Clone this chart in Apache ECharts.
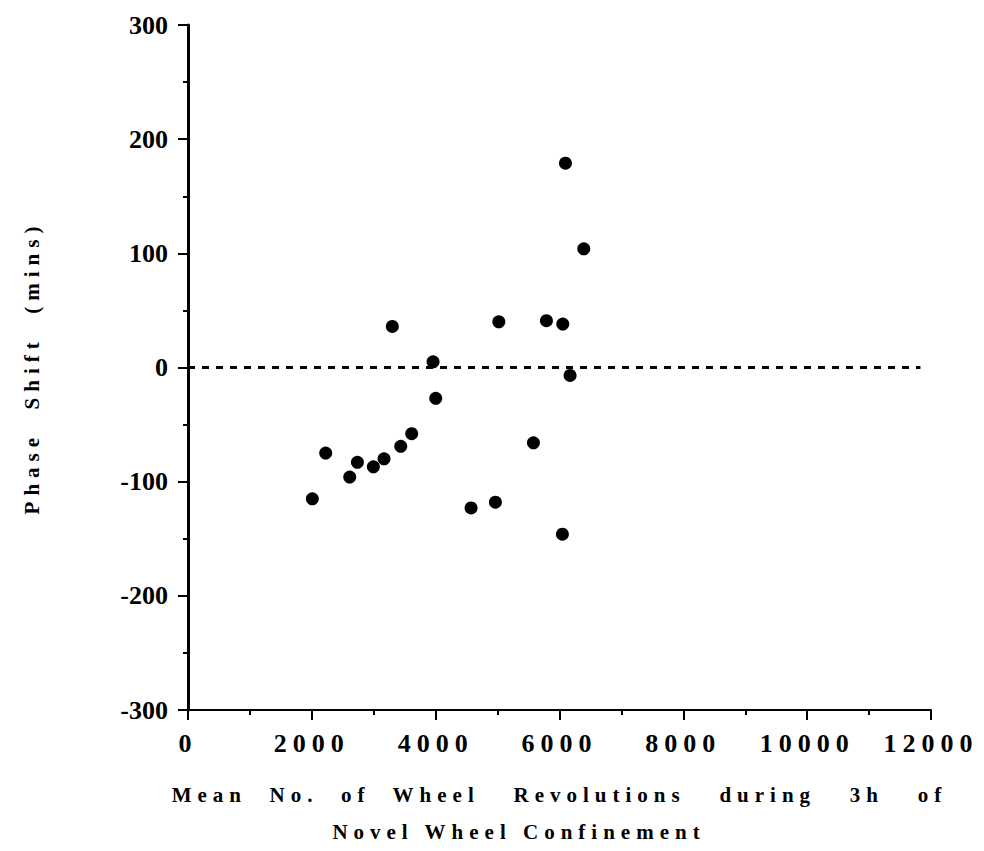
<!DOCTYPE html>
<html>
<head>
<meta charset="utf-8">
<script src="https://cdn.jsdelivr.net/npm/echarts@6/dist/echarts.min.js"></script>
<style>
  html, body { margin: 0; padding: 0; background: #fff; }
  #chart { width: 984px; height: 851px; }
  /* the old plot uses wide letter tracking on its centred texts */
  #chart text[text-anchor="middle"] { letter-spacing: 6px; white-space: pre; }
</style>
</head>
<body>
<div id="chart"></div>
<script>
// mean wheel revolutions in 3h vs phase shift (mins)
var revolutions = [2008, 2224, 2612, 2736, 2994, 3166, 3436, 3613, 3300, 3958, 4001,
                   4572, 4965, 5020, 5579, 5789, 6053, 6047, 6096, 6171, 6392];
var phaseShift  = [-115, -75, -96, -83, -87, -80, -69, -58, 36, 5, -27,
                   -123, -118, 40, -66, 41, 38, -146, 179, -7, 104];
var refLineX = [0, 11830];
var refLineY = 0;

var points = [];
for (var i = 0; i < revolutions.length; i++) {
	points.push([revolutions[i], phaseShift[i]]);
}

var font = '"Liberation Serif", "Times New Roman", serif';

var s = echarts.init(document.getElementById("chart"), null, {renderer: 'svg'}), c = {
	backgroundColor: '#fff',
	animation: false,
	grid: {left: 188, right: 53, top: 25, bottom: 141},
	xAxis: {
		type: 'value',
		min: 0, max: 12000, interval: 2000,
		name: 'Mean  No.  of  Wheel   Revolutions   during   3h   of',
		nameLocation: 'middle',
		nameGap: 74,
		nameTextStyle: {fontFamily: font, fontSize: 21, fontWeight: 'bold', color: '#000'},
		axisLine: {onZero: false, lineStyle: {color: '#000', width: 2}},
		axisTick: {length: 10, lineStyle: {color: '#000', width: 2}},
		minorTick: {show: true, splitNumber: 2, length: 5, lineStyle: {color: '#000', width: 2}},
		splitLine: {show: false},
		axisLabel: {
			fontFamily: font, fontSize: 26, fontWeight: 'bold', color: '#000', margin: 20,
			formatter: function (v) { return String(v); }
		}
	},
	yAxis: {
		type: 'value',
		min: -300, max: 300, interval: 100,
		name: 'Phase  Shift  (mins)',
		nameLocation: 'middle',
		nameGap: 146,
		nameTextStyle: {fontFamily: font, fontSize: 21, fontWeight: 'bold', color: '#000'},
		axisLine: {onZero: false, lineStyle: {color: '#000', width: 3}},
		axisTick: {length: 10, lineStyle: {color: '#000', width: 2}},
		minorTick: {show: true, splitNumber: 2, length: 5, lineStyle: {color: '#000', width: 2}},
		splitLine: {show: false},
		axisLabel: {fontFamily: font, fontSize: 26, fontWeight: 'bold', color: '#000', margin: 20}
	},
	graphic: [{
		type: 'text',
		x: 519, y: 821,
		style: {text: 'Novel Wheel Confinement', fontFamily: font, fontSize: 21, fontWeight: 'bold', fill: '#000', textAlign: 'center', textVerticalAlign: 'top'}
	}],
	series: [{
		type: 'scatter',
		symbol: 'circle',
		symbolSize: 13,
		itemStyle: {color: '#000', opacity: 1},
		data: points,
		markLine: {
			silent: true,
			symbol: 'none',
			label: {show: false},
			lineStyle: {color: '#000', width: 3, type: [7, 7], opacity: 1},
			data: [[{coord: [refLineX[0], refLineY]}, {coord: [refLineX[1], refLineY]}]]
		}
	}]
};
s.setOption(c);
</script>
</body>
</html>
